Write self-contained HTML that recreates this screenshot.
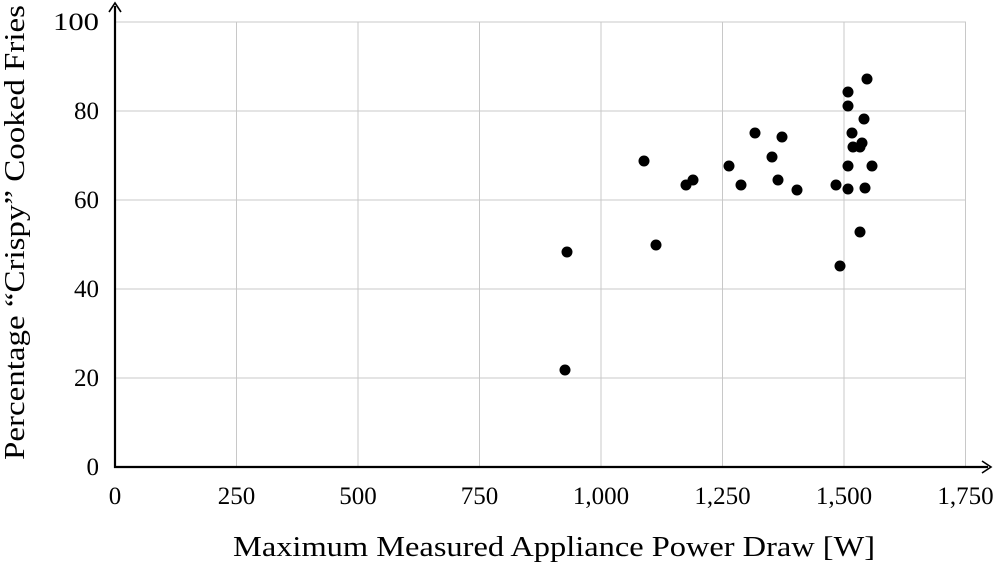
<!DOCTYPE html>
<html><head><meta charset="utf-8"><style>
html,body{margin:0;padding:0;background:#fff;}
svg{display:block;font-family:"Liberation Serif",serif;}
</style></head><body>
<svg width="1000" height="563" viewBox="0 0 1000 563" xmlns="http://www.w3.org/2000/svg">
<g stroke="#c8c8c8" stroke-width="1">
<line x1="236.5" y1="22" x2="236.5" y2="467"/>
<line x1="358" y1="22" x2="358" y2="467"/>
<line x1="479.5" y1="22" x2="479.5" y2="467"/>
<line x1="601" y1="22" x2="601" y2="467"/>
<line x1="722.5" y1="22" x2="722.5" y2="467"/>
<line x1="844" y1="22" x2="844" y2="467"/>
<line x1="965.5" y1="22" x2="965.5" y2="467"/>
<line x1="115" y1="378" x2="966" y2="378"/>
<line x1="115" y1="289" x2="966" y2="289"/>
<line x1="115" y1="200" x2="966" y2="200"/>
<line x1="115" y1="111" x2="966" y2="111"/>
<line x1="115" y1="22" x2="966" y2="22"/>
</g>
<g stroke="#000" stroke-width="2.2" fill="none">
<line x1="115" y1="468" x2="115" y2="6"/>
<line x1="114" y1="467" x2="988" y2="467"/>
<path d="M109,12 L115,3 L121,12" stroke-width="1.6"/>
<path d="M982,461 L991,467 L982,473" stroke-width="1.6"/>
</g>
<g font-size="25" fill="#000" text-anchor="end">
<text x="99" y="475">0</text>
<text x="99" y="386">20</text>
<text x="99" y="297">40</text>
<text x="99" y="208">60</text>
<text x="99" y="119">80</text>
<text x="99" y="30" textLength="46" lengthAdjust="spacingAndGlyphs">100</text>
</g>
<g font-size="25" fill="#000" text-anchor="middle">
<text x="115" y="504">0</text>
<text x="236.5" y="504">250</text>
<text x="358" y="504">500</text>
<text x="479.5" y="504">750</text>
<text x="601" y="504">1,000</text>
<text x="722.5" y="504">1,250</text>
<text x="844" y="504">1,500</text>
<text x="965.5" y="504">1,750</text>
</g>
<text x="233" y="556" font-size="28" textLength="642" lengthAdjust="spacingAndGlyphs" fill="#000">Maximum Measured Appliance Power Draw [W]</text>
<text transform="translate(24,460) rotate(-90)" font-size="28" textLength="455" lengthAdjust="spacingAndGlyphs" fill="#000">Percentage “Crispy” Cooked Fries</text>
<g fill="#000">
<circle cx="565" cy="370" r="5.5"/><circle cx="567" cy="252" r="5.5"/>
<circle cx="644" cy="161" r="5.5"/><circle cx="656" cy="245" r="5.5"/>
<circle cx="686" cy="185" r="5.5"/><circle cx="693" cy="180" r="5.5"/>
<circle cx="741" cy="185" r="5.5"/><circle cx="729" cy="166" r="5.5"/>
<circle cx="755" cy="133" r="5.5"/><circle cx="772" cy="157" r="5.5"/>
<circle cx="778" cy="180" r="5.5"/><circle cx="782" cy="137" r="5.5"/>
<circle cx="797" cy="190" r="5.5"/><circle cx="836" cy="185" r="5.5"/>
<circle cx="840" cy="266" r="5.5"/><circle cx="848" cy="92" r="5.5"/>
<circle cx="848" cy="106" r="5.5"/><circle cx="848" cy="166" r="5.5"/>
<circle cx="848" cy="189" r="5.5"/><circle cx="852" cy="133" r="5.5"/>
<circle cx="853" cy="147" r="5.5"/><circle cx="860" cy="232" r="5.5"/>
<circle cx="860" cy="147" r="5.5"/><circle cx="862" cy="143" r="5.5"/>
<circle cx="864" cy="119" r="5.5"/><circle cx="865" cy="188" r="5.5"/>
<circle cx="867" cy="79" r="5.5"/><circle cx="872" cy="166" r="5.5"/>
</g>
</svg>
</body></html>
